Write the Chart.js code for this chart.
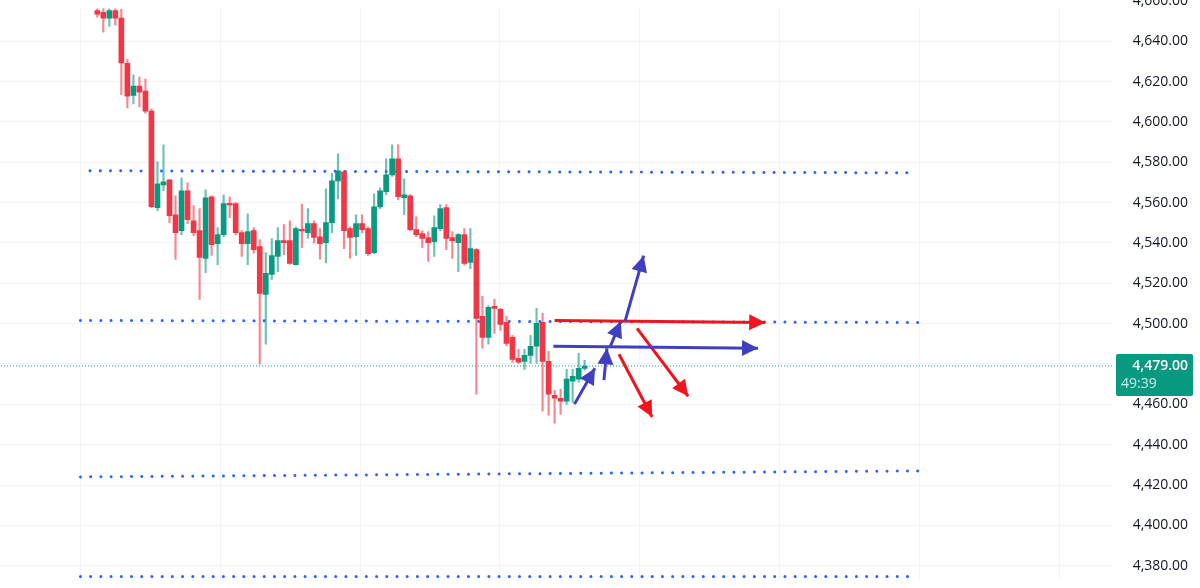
<!DOCTYPE html>
<html><head><meta charset="utf-8">
<script src="https://cdn.jsdelivr.net/npm/chart.js@4.4.1/dist/chart.umd.min.js"></script>
<style>html,body{margin:0;padding:0;background:#fff;overflow:hidden}canvas{display:block}</style>
</head><body><canvas id="c" width="1200" height="588" style="width:1200px;height:588px"></canvas>
<script>
// OHLC candles, index = bar number
const opens  = [4655.2,4654.4,4651.5,4655.2,4651.5,4629.1,4613.2,4617.8,4615.3,4605.4,4557.5,4568.8,4571.3,4554.0,4546.1,4565.9,4551.0,4546.1,4532.3,4562.9,4539.7,4544.1,4559.5,4559.5,4545.1,4539.7,4546.1,4538.2,4514.5,4524.4,4533.3,4541.2,4541.2,4529.3,4546.6,4545.1,4549.6,4543.1,4540.2,4550.1,4570.8,4575.3,4547.1,4543.1,4549.6,4547.1,4535.2,4557.9,4565.4,4573.8,4581.7,4562.4,4563.4,4546.6,4544.6,4542.7,4540.7,4547.1,4557.5,4542.7,4540.2,4544.1,4530.3,4536.7,4503.6,4493.2,4508.6,4507.1,4500.6,4493.2,4482.8,4481.3,4484.3,4488.8,4500.6,4481.3,4464.5,4463.0,4461.6,4471.5,4472.5,4477.8];
const highs  = [4659.0,4656.8,4659.0,4659.0,4656.0,4631.1,4623.4,4622.2,4621.2,4606.5,4580.2,4588.6,4571.3,4563.4,4572.3,4569.8,4558.5,4557.0,4566.4,4563.4,4547.6,4563.9,4562.9,4560.0,4546.1,4554.5,4547.6,4541.7,4535.2,4542.2,4547.6,4549.1,4551.0,4548.0,4559.3,4557.0,4551.0,4547.1,4566.9,4574.5,4584.2,4576.0,4548.0,4554.0,4554.0,4548.0,4564.4,4567.4,4581.7,4588.6,4588.6,4571.8,4564.0,4553.0,4546.0,4545.6,4553.5,4559.0,4559.0,4545.6,4544.6,4547.1,4547.1,4537.2,4513.5,4509.0,4512.0,4507.6,4503.6,4494.2,4487.3,4487.3,4494.2,4507.6,4505.1,4486.3,4467.0,4467.5,4477.3,4477.3,4485.3,4481.8];
const lows   = [4652.0,4644.5,4647.4,4648.0,4613.5,4606.9,4609.0,4607.4,4604.4,4557.5,4556.0,4565.9,4550.1,4531.8,4544.1,4549.6,4543.6,4512.0,4525.3,4533.8,4529.3,4543.1,4552.5,4544.0,4533.3,4529.3,4535.0,4479.9,4489.8,4521.9,4525.8,4534.2,4529.5,4529.0,4537.7,4542.3,4540.0,4532.0,4530.1,4545.1,4561.9,4537.2,4532.3,4533.8,4545.0,4533.8,4534.7,4557.0,4564.0,4573.0,4561.4,4554.0,4546.0,4543.1,4537.7,4530.8,4533.3,4546.0,4536.7,4532.3,4525.8,4529.0,4527.3,4465.0,4487.8,4489.8,4495.2,4496.7,4489.0,4480.8,4480.3,4477.3,4480.3,4480.3,4456.6,4454.6,4450.6,4455.0,4460.0,4461.0,4471.0,4477.0];
const closes = [4653.5,4651.5,4655.2,4651.5,4629.3,4612.8,4617.8,4614.8,4605.4,4558.0,4569.3,4570.3,4553.5,4545.1,4565.9,4551.5,4545.1,4532.8,4562.4,4539.2,4544.1,4559.5,4559.0,4545.1,4539.7,4545.6,4536.7,4515.0,4524.9,4533.8,4541.2,4540.2,4529.8,4547.1,4546.1,4549.6,4542.7,4539.7,4550.1,4570.8,4575.8,4546.1,4542.7,4549.6,4546.6,4534.7,4557.9,4565.9,4573.8,4581.7,4562.9,4563.9,4546.6,4544.1,4542.2,4540.2,4547.6,4557.0,4542.2,4541.2,4544.1,4529.8,4537.2,4502.6,4493.2,4508.1,4507.6,4499.6,4490.2,4482.3,4480.9,4484.3,4488.8,4500.1,4481.3,4465.0,4463.0,4461.6,4472.5,4473.9,4477.8,4479.0];
// horizontal dotted levels [xStart, yStart, xEnd, yEnd]
const levels = [[-1.2,4575.8,135.5,4574.8],[-2.8,4501.6,136.8,4500.6],[-2.8,4424.0,136.8,4427.0],[-2.8,4374.6,134.7,4374.6]];
// drawn arrows [x1,y1,x2,y2]
const blueArrows = [[79.3,4460.1,82.7,4477.9],[84.2,4472.0,84.7,4487.8],[85.2,4488.3,87.0,4501.1],[87.7,4501.1,90.8,4533.7],[75.8,4488.8,109.8,4487.8]];
const redArrows  = [[76.0,4501.6,111.0,4500.6],[89.7,4497.7,98.2,4464.0],[86.7,4484.8,92.2,4453.7]];
const lastPrice = 4479.0, countdown = '49:39';
const yTicks = [4380,4400,4420,4440,4460,4480,4500,4520,4540,4560,4580,4600,4620,4640,4660];
const xGrid = [-2.83,20.42,43.67,66.92,90.17,113.42,136.67,159.92];
const Y_MIN = 4373.1, Y_MAX = 4656.3;

const UP='#089981', DN='#f23645', UPW='rgba(8,153,129,0.6)', DNW='rgba(242,54,69,0.6)';
const idx = opens.map((_,i)=>i);
const bodies = idx.map(i=>{let a=opens[i],b=closes[i];if(Math.abs(a-b)<0.6){const m=(a+b)/2;a=m-0.4;b=m+0.4;}return {x:i,y:[Math.min(a,b),Math.max(a,b)]};});
const wicks = idx.map(i=>({x:i,y:[lows[i],highs[i]]}));
const col = i=>closes[i]>=opens[i]?UP:DN;
const fmt = v=>v.toLocaleString('en-US',{minimumFractionDigits:2,maximumFractionDigits:2});

const datasets = [
 {type:'bar',data:wicks,barThickness:1.5,grouped:false,backgroundColor:c=>closes[c.dataIndex]>=opens[c.dataIndex]?UPW:DNW,order:3},
 {type:'bar',data:bodies,barThickness:5,grouped:false,backgroundColor:c=>col(c.dataIndex),order:2},
 {type:'line',data:[{x:-20,y:lastPrice},{x:200,y:lastPrice}],borderColor:UP,borderWidth:1,borderDash:[1,2],pointRadius:0,order:5}
];
levels.forEach(l=>datasets.push({type:'line',data:[{x:l[0],y:l[1]},{x:l[2],y:l[3]}],borderColor:'#2962ff',borderWidth:3,borderDash:[0.01,10.2],borderCapStyle:'round',pointRadius:0,order:4,clip:false}));
const arrows=[...blueArrows.map(a=>[a,'#3f3fbf']),...redArrows.map(a=>[a,'#f0141e'])];
arrows.forEach(([a,c])=>datasets.push({type:'line',data:[{x:a[0],y:a[1]},{x:a[2],y:a[3]}],borderColor:c,borderWidth:3,pointRadius:0,order:1}));

const deco = {id:'deco',afterDatasetsDraw(ch){
  const {ctx,scales:{x,y}}=ch;
  ctx.save();
  arrows.forEach(([a,c])=>{
    const x1=x.getPixelForValue(a[0]),y1=y.getPixelForValue(a[1]),x2=x.getPixelForValue(a[2]),y2=y.getPixelForValue(a[3]);
    const ang=Math.atan2(y2-y1,x2-x1),L=16,W=8;
    ctx.fillStyle=c;ctx.beginPath();ctx.moveTo(x2,y2);
    ctx.lineTo(x2-L*Math.cos(ang)+W*Math.sin(ang),y2-L*Math.sin(ang)-W*Math.cos(ang));
    ctx.lineTo(x2-L*Math.cos(ang)-W*Math.sin(ang),y2-L*Math.sin(ang)+W*Math.cos(ang));
    ctx.closePath();ctx.fill();
  });
  ctx.restore();
},afterDraw(ch){
  const {ctx,scales:{y}}=ch;
  ctx.save();
  ctx.font='14px "Open Sans", sans-serif';ctx.fillStyle='#131722';ctx.textAlign='right';ctx.textBaseline='middle';
  ctx.fillText(fmt(4660),1188,y.getPixelForValue(4660));
  const py=y.getPixelForValue(lastPrice);
  ctx.fillStyle=UP;ctx.beginPath();ctx.roundRect(1116,py-12,77,42,2);ctx.fill();
  ctx.fillStyle='#fff';ctx.font='600 14px "Open Sans", sans-serif';ctx.fillText(fmt(lastPrice),1188,py);
  ctx.fillStyle='rgba(255,255,255,0.8)';ctx.font='14px "Open Sans", sans-serif';ctx.textAlign='left';ctx.fillText(countdown,1121,py+18);
  ctx.restore();
}};

new Chart(document.getElementById('c'),{
 data:{datasets},
 options:{responsive:false,animation:false,devicePixelRatio:1,
  layout:{padding:{right:12}},
  plugins:{legend:{display:false},tooltip:{enabled:false}},
  scales:{
   x:{type:'linear',offset:false,min:-16.17,max:168.8,grid:{color:'#f0f3fa',drawTicks:false,offset:false},border:{display:false},
      ticks:{display:false,padding:0},afterBuildTicks:s=>{s.ticks=xGrid.map(v=>({value:v}));},afterFit:s=>{s.height=0;}},
   y:{position:'right',min:Y_MIN,max:Y_MAX,grid:{color:'#f0f3fa',drawTicks:false},border:{display:false},
      afterBuildTicks:s=>{s.ticks=yTicks.filter(v=>v<=Y_MAX&&v>=Y_MIN).map(v=>({value:v}));},
      afterFit:s=>{s.width=75;},
      ticks:{padding:0,crossAlign:'far',color:'#131722',font:{family:'"Open Sans", sans-serif',size:14},callback:v=>v===lastPrice+1?'':fmt(v)}}
  }},
 plugins:[deco]
});
</script></body></html>
